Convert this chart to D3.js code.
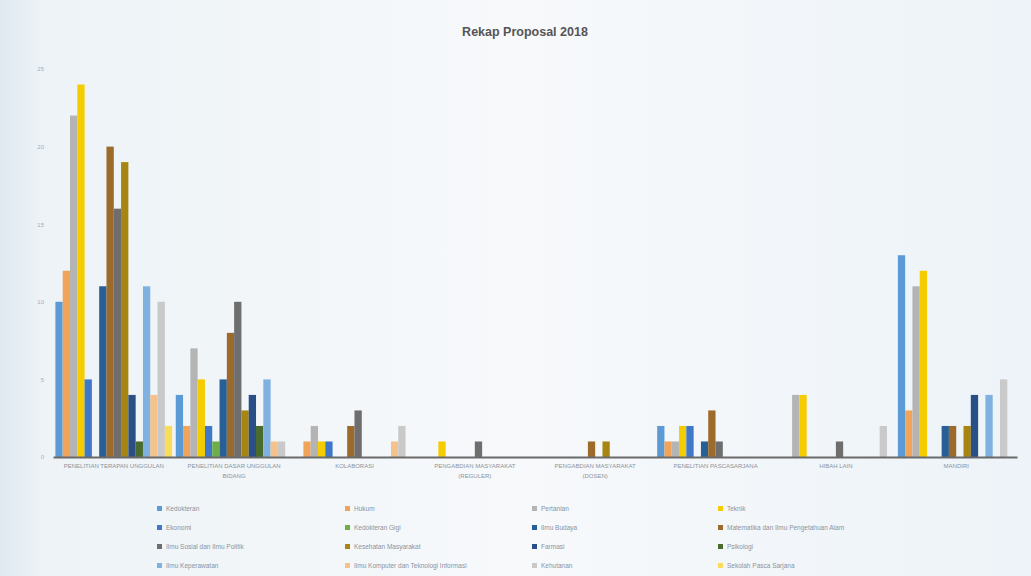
<!DOCTYPE html>
<html lang="id">
<head>
<meta charset="utf-8" />
<title>Rekap Proposal 2018</title>
<script src="https://d3js.org/d3.v7.min.js"></script>
<style>
  * { margin: 0; padding: 0; }
  body { width: 1031px; height: 576px; overflow: hidden; background: #f2f6f9; }
  svg { display: block; }
  text { font-family: "Liberation Sans", Arial, sans-serif; }
</style>
</head>
<body>
<div id="chart"></div>
<script>

// kategori (sumbu x)
var categories = [
  "PENELITIAN TERAPAN UNGGULAN",
  "PENELITIAN DASAR UNGGULAN\nBIDANG",
  "KOLABORASI",
  "PENGABDIAN MASYARAKAT\n(REGULER)",
  "PENGABDIAN MASYARAKAT\n(DOSEN)",
  "PENELITIAN PASCASARJANA",
  "HIBAH LAIN",
  "MANDIRI"
];

// fakultas (seri)
var faculties = [
  "Kedokteran", "Hukum", "Pertanian", "Teknik",
  "Ekonomi", "Kedokteran Gigi", "Ilmu Budaya", "Matematika dan Ilmu Pengetahuan Alam",
  "Ilmu Sosial dan Ilmu Politik", "Kesehatan Masyarakat", "Farmasi", "Psikologi",
  "Ilmu Keperawatan", "Ilmu Komputer dan Teknologi Informasi", "Kehutanan", "Sekolah Pasca Sarjana"
];

var colors = [
  "#5b9bd5", "#f0a45a", "#b4b4b4", "#f5cc00",
  "#3f78c8", "#6fae47", "#285f94", "#9c6a2a",
  "#6e6e6e", "#a88410", "#2a4f86", "#4a6b2e",
  "#7fb2e0", "#f3c28e", "#c9c9c9", "#f8dc5a"
];

// jumlah proposal per kategori, satu baris per fakultas
var kedokteran   = [10, 4, 0, 0, 0, 2, 0, 13];
var hukum        = [12, 2, 1, 0, 0, 1, 0, 3];
var pertanian    = [22, 7, 2, 0, 0, 1, 4, 11];
var teknik       = [24, 5, 1, 1, 0, 2, 4, 12];
var ekonomi      = [5, 2, 1, 0, 0, 2, 0, 0];
var kedGigi      = [0, 1, 0, 0, 0, 0, 0, 0];
var ilmuBudaya   = [11, 5, 0, 0, 0, 1, 0, 2];
var mipa         = [20, 8, 2, 0, 1, 3, 0, 2];
var isip         = [16, 10, 3, 1, 0, 1, 1, 0];
var kesmas       = [19, 3, 0, 0, 1, 0, 0, 2];
var farmasi      = [4, 4, 0, 0, 0, 0, 0, 4];
var psikologi    = [1, 2, 0, 0, 0, 0, 0, 0];
var keperawatan  = [11, 5, 0, 0, 0, 0, 0, 4];
var ilkom        = [4, 1, 1, 0, 0, 0, 0, 0];
var kehutanan    = [10, 1, 2, 0, 0, 0, 2, 5];
var pascasarjana = [2, 0, 0, 0, 0, 0, 0, 0];

var seriesValues = [kedokteran, hukum, pertanian, teknik, ekonomi, kedGigi, ilmuBudaya, mipa,
                    isip, kesmas, farmasi, psikologi, keperawatan, ilkom, kehutanan, pascasarjana];

var yTicks = [0, 5, 10, 15, 20, 25];

var W = 1031, H = 576;

var svg = d3.select("#chart").append("svg")
    .attr("width", W)
    .attr("height", H);

var defs = svg.append("defs");
var grad = defs.append("linearGradient").attr("id", "bg").attr("x1", 0).attr("x2", 1).attr("y1", 0).attr("y2", 0);
grad.append("stop").attr("offset", "0%").attr("stop-color", "#dfe9f0");
grad.append("stop").attr("offset", "4%").attr("stop-color", "#edf3f7");
grad.append("stop").attr("offset", "50%").attr("stop-color", "#f7f9fb");
grad.append("stop").attr("offset", "100%").attr("stop-color", "#edf3f8");
svg.append("rect").attr("width", W).attr("height", H).attr("fill", "url(#bg)");

svg.append("text")
    .attr("x", 525)
    .attr("y", 36)
    .attr("text-anchor", "middle")
    .style("font-size", "12.5px")
    .style("font-weight", "bold")
    .attr("fill", "#555")
    .text("Rekap Proposal 2018");

var x = d3.scaleBand()
    .domain(d3.range(categories.length))
    .range([53, 1017])
    .paddingInner(0.03)
    .paddingOuter(0.02);

var xs = d3.scaleBand()
    .domain(d3.range(faculties.length))
    .range([0, x.bandwidth()])
    .padding(0);

var y = d3.scaleLinear()
    .domain([0, 25])
    .range([457, 69]);

// sumbu y
var yAxis = svg.append("g")
    .attr("transform", "translate(48,0)")
    .call(d3.axisLeft(y).tickValues(yTicks).tickSize(0).tickPadding(4));
yAxis.select(".domain").remove();
yAxis.selectAll("text").style("font-size", "6px").attr("fill", "#aab");

// batang
var groups = svg.append("g").selectAll("g")
    .data(categories)
  .enter().append("g")
    .attr("transform", function(d, i) { return "translate(" + x(i) + ",0)"; });

groups.selectAll("rect")
    .data(function(d, i) { return seriesValues.map(function(s, j) { return {s: j, v: s[i]}; }); })
  .enter().append("rect")
    .attr("x", function(d) { return xs(d.s); })
    .attr("width", xs.bandwidth())
    .attr("y", function(d) { return y(d.v); })
    .attr("height", function(d) { return y(0) - y(d.v); })
    .attr("fill", function(d) { return colors[d.s]; });

// sumbu x
var xAxis = svg.append("g")
    .attr("transform", "translate(0," + y(0) + ")")
    .call(d3.axisBottom(x).tickSize(0).tickFormat(""));
xAxis.select(".domain").attr("stroke", "#6a6a6a").attr("stroke-width", 2);

svg.append("g").selectAll("text")
    .data(categories)
  .enter().append("text")
    .attr("x", function(d, i) { return x(i) + x.bandwidth() / 2; })
    .attr("y", 468)
    .attr("text-anchor", "middle")
    .style("font-size", "6px")
    .attr("fill", "#8a93a0")
    .each(function(d) {
      var lines = d.split("\n");
      var t = d3.select(this);
      lines.forEach(function(l, k) {
        t.append("tspan")
          .attr("x", t.attr("x"))
          .attr("dy", k == 0 ? 0 : 10)
          .text(l);
      });
    });

// legenda
var legendCols = [157, 345, 532, 718];
var legendRows = [511, 530, 549, 568];

var legend = svg.append("g").selectAll("g")
    .data(faculties)
  .enter().append("g")
    .attr("transform", function(d, i) {
      return "translate(" + legendCols[i % 4] + "," + legendRows[Math.floor(i / 4)] + ")";
    });

legend.append("rect")
    .attr("x", 0)
    .attr("y", -5)
    .attr("width", 5)
    .attr("height", 5)
    .attr("fill", function(d, i) { return colors[i]; });

legend.append("text")
    .attr("x", 9)
    .attr("y", 0)
    .style("font-size", "6.5px")
    .attr("fill", "#8a93a0")
    .text(function(d) { return d; });

</script>
</body>
</html>
